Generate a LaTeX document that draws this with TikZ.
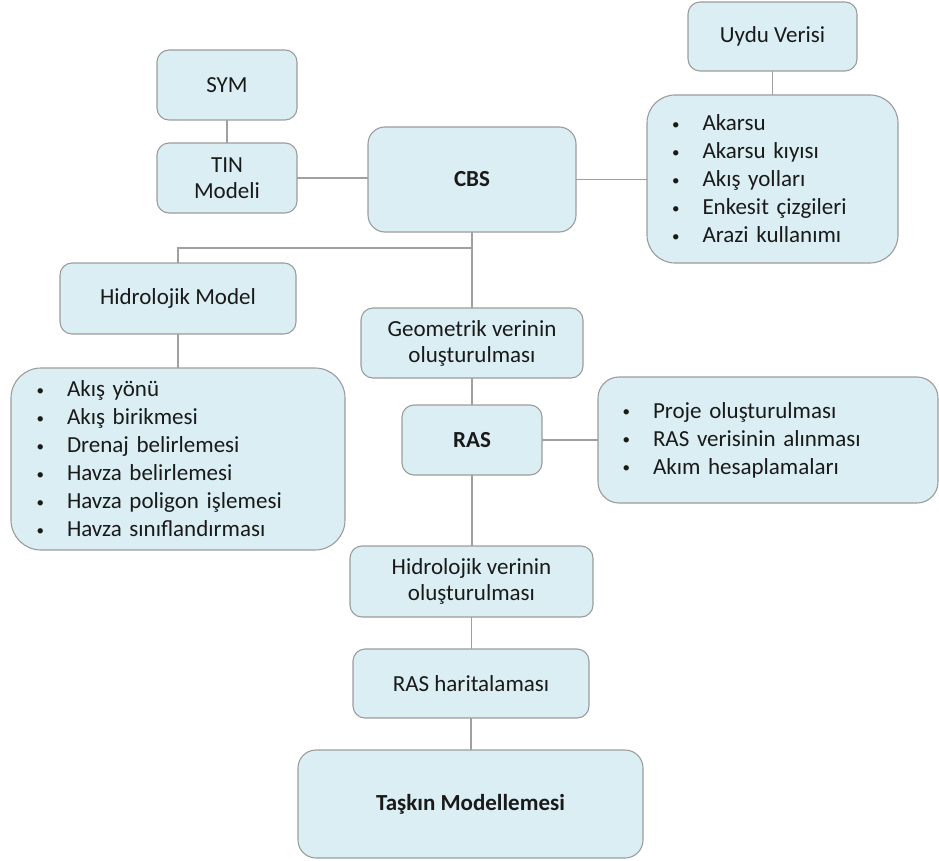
\documentclass[tikz,border=0pt]{standalone}
\usepackage{fontspec}
\setmainfont{Carlito}
\definecolor{boxfill}{HTML}{DAEEF3}
\definecolor{boxline}{HTML}{9C9C9C}
\definecolor{conn}{HTML}{A0A0A0}
\definecolor{txt}{HTML}{1A1A1A}
\begin{document}
\begin{tikzpicture}[x=1pt,y=-1pt,
  box/.style={draw=boxline, fill=boxfill, line width=1.1pt, rounded corners=#1,
    inner sep=0pt, outer sep=0pt, align=center, text=txt,
    font=\fontsize{23}{26}\selectfont},
  box/.default=12pt,
  listbox/.style={draw=boxline, fill=boxfill, line width=1.1pt, rounded corners=#1,
    inner ysep=0pt, outer sep=0pt, align=left, text=txt,
    font=\fontsize{23}{28}\selectfont},
  link/.style={draw=conn, line width=1.3pt}]
\useasboundingbox (0,0) rectangle (939,861);
\newcommand{\itm}{\makebox[30pt][l]{\hspace{-0.5pt}\raisebox{1.8pt}{\fontsize{15}{15}\selectfont •}}}
% nodes
\node[box, minimum width=140pt, minimum height=70pt] (sym) at (227,85) {SYM};
\node[box, minimum width=140pt, minimum height=70pt] (tin) at (227,178) {TIN\\Modeli};
\node[box=17pt, minimum width=208pt, minimum height=105pt] (cbs) at (472,179.5) {\textbf{CBS}};
\node[box, minimum width=169pt, minimum height=69pt] (uydu) at (772.5,36.5) {Uydu Verisi};
\node[listbox=28pt, inner xsep=25.5pt, text width=200pt, minimum height=168pt] (ulist) at (772.5,179)
  {\itm Akarsu\\\itm Akarsu kıyısı\\\itm Akış yolları\\\itm Enkesit çizgileri\\\itm Arazi kullanımı};
\node[box, minimum width=236pt, minimum height=71pt] (hmodel) at (178,298.5) {Hidrolojik Model};
\node[listbox=30pt, inner xsep=26pt, text width=282pt, minimum height=182pt] (hlist) at (178,459)
  {\itm Akış yönü\\\itm Akış birikmesi\\\itm Drenaj belirlemesi\\\itm Havza belirlemesi\\\itm Havza poligon işlemesi\\\itm Havza sınıflandırması};
\node[box, minimum width=222pt, minimum height=70pt] (geo) at (472,343) {Geometrik verinin\\oluşturulması};
\node[box, minimum width=140pt, minimum height=70pt] (ras) at (472,440) {\textbf{RAS}};
\node[listbox=21pt, inner xsep=25pt, text width=290pt, minimum height=126pt] (rlist) at (768,440)
  {\itm Proje oluşturulması\\\itm RAS verisinin alınması\\\itm Akım hesaplamaları};
\node[box, minimum width=243pt, minimum height=71pt] (hveri) at (471.5,581.5) {Hidrolojik verinin\\oluşturulması};
\node[box, minimum width=236pt, minimum height=69pt] (rasmap) at (471,683.5) {RAS haritalaması};
\node[box=18pt, minimum width=345pt, minimum height=108pt] (taskin) at (470.5,804) {\textbf{Taşkın Modellemesi}};
\coordinate (j) at (472,248);
% connectors
\draw[link] (sym.south) -- (tin.north);
\draw[link] (tin.east) -- (tin.east -| cbs.west);
\draw[link] (uydu.south) -- (ulist.north);
\draw[link] (cbs.east) -- (cbs.east -| ulist.west);
\draw[link] (cbs.south) -- (geo.north);
\draw[link] (j) -| (hmodel.north);
\draw[link] (hmodel.south) -- (hlist.north);
\draw[link] (geo.south) -- (ras.north);
\draw[link] (ras.east) -- (rlist.west);
\draw[link] (ras.south) -- (ras.south |- hveri.north);
\draw[link] (hveri.south) -- (hveri.south |- rasmap.north);
\draw[link] (rasmap.south) -- (rasmap.south |- taskin.north);
\end{tikzpicture}
\end{document}
